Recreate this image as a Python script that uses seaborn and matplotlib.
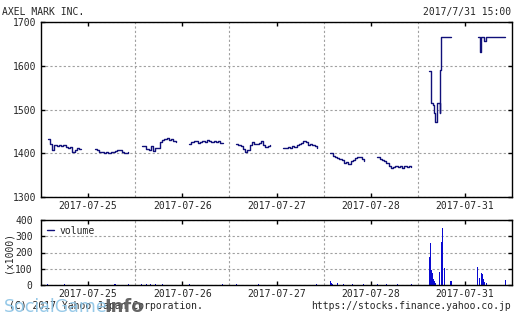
import numpy as np
import pandas as pd
import matplotlib
matplotlib.use("Agg")
import matplotlib.pyplot as plt
import seaborn as sns
from matplotlib.lines import Line2D
from matplotlib.ticker import FixedLocator

# ---------------- data ----------------
title = "AXEL MARK INC."
stamp = "2017/7/31 15:00"
day_labels = ["2017-07-25", "2017-07-26", "2017-07-27", "2017-07-28", "2017-07-31"]
price_ticks = [1300, 1400, 1500, 1600, 1700]
volume_ticks = [0, 100, 200, 300, 400]

# regular sessions (minutes after 9:00), 10-minute readings
am_minutes = list(range(0, 151, 10))
pm_minutes = list(range(210, 361, 10))

d1_am = [1432, 1422, 1408, 1420, 1416, 1418, 1416, 1418, 1415, 1412, 1414, 1404, 1408, 1412, 1410, 1410]
d1_pm = [1409, 1408, 1404, 1404, 1400, 1402, 1401, 1402, 1404, 1405, 1408, 1407, 1404, 1401, 1400, 1404]
d2_am = [1417, 1416, 1410, 1408, 1416, 1406, 1412, 1413, 1426, 1430, 1432, 1434, 1430, 1432, 1428, 1426]
d2_pm = [1422, 1426, 1428, 1427, 1424, 1426, 1428, 1426, 1430, 1428, 1426, 1428, 1425, 1429, 1424, 1424]
d3_am = [1422, 1418, 1416, 1410, 1404, 1408, 1418, 1426, 1422, 1421, 1424, 1428, 1420, 1414, 1416, 1420]
d3_pm = [1413, 1413, 1415, 1413, 1416, 1414, 1420, 1422, 1424, 1428, 1426, 1420, 1421, 1418, 1416, 1413]
d4_am = [1401, 1394, 1392, 1390, 1388, 1384, 1378, 1380, 1376, 1382, 1384, 1390, 1392, 1392, 1388, 1383]
d4_pm = [1391, 1388, 1385, 1382, 1378, 1372, 1366, 1368, 1370, 1368, 1370, 1367, 1370, 1368, 1370, 1369]

# 2017-07-31 (irregular trading)
d5_am_minutes = [22, 27, 30, 37, 40, 45, 48, 54, 57, 64, 67, 71, 74, 119]
d5_am = [1589, 1549, 1515, 1510, 1492, 1485, 1471, 1480, 1515, 1515, 1492, 1591, 1665, 1665]
d5_pm_minutes = [238, 246, 250, 265, 275, 360]
d5_pm = [1665, 1631, 1665, 1656, 1665, 1665]

# volume (x1000 shares): day index, minutes after 9:00, volume
vol_day = ([0] * 7 + [1] * 9 + [2] * 6 + [3] * 11 + [4] * 23)
vol_minute = ([0, 30, 75, 140, 215, 300, 360] +
              [0, 20, 40, 60, 90, 150, 210, 270, 360] +
              [0, 50, 100, 215, 300, 360] +
              [0, 5, 10, 30, 60, 100, 150, 210, 250, 300, 360] +
              [21, 27, 30, 34, 37, 41, 46, 50, 65, 76, 79, 88, 90, 118,
               237, 247, 252, 256, 260, 265, 269, 278, 360])
vol_value = ([6, 3, 4, 3, 3, 4, 6] +
             [8, 5, 9, 6, 4, 3, 4, 3, 5] +
             [5, 3, 4, 3, 3, 5] +
             [25, 12, 8, 15, 6, 5, 4, 6, 5, 4, 6] +
             [175, 256, 92, 74, 51, 35, 25, 15, 78, 267, 349, 107, 20, 25,
              109, 45, 62, 72, 66, 40, 20, 10, 31])

# ---------------- build frames ----------------
def xpos(day, minute):
    return day + (np.asarray(minute) + 30) / 420.0

sessions = [
    (0, am_minutes, d1_am), (0, pm_minutes, d1_pm),
    (1, am_minutes, d2_am), (1, pm_minutes, d2_pm),
    (2, am_minutes, d3_am), (2, pm_minutes, d3_pm),
    (3, am_minutes, d4_am), (3, pm_minutes, d4_pm),
    (4, d5_am_minutes, d5_am), (4, d5_pm_minutes, d5_pm),
]
rows = []
for seg, (d, mins, prices) in enumerate(sessions):
    for m, p in zip(mins, prices):
        rows.append({"x": float(xpos(d, m)), "price": p, "seg": seg})
price_df = pd.DataFrame(rows)

vol_df = pd.DataFrame({"x": xpos(np.array(vol_day), np.array(vol_minute)),
                       "volume": vol_value})

# ---------------- style ----------------
sns.set_style("white")
mono = ["DejaVu Sans Mono"]
plt.rcParams["font.family"] = mono
plt.rcParams["font.size"] = 7

navy = "#10107a"
barblue = "#0a0ad0"
gridc = "#a0a0a0"

fig = plt.figure(figsize=(5.19, 3.19), dpi=100)
W, H = 519.0, 319.0
ax1 = fig.add_axes([41 / W, 1 - 197 / H, 471 / W, 175 / H])
ax2 = fig.add_axes([41 / W, 1 - 285 / H, 471 / W, 65 / H])

sns.lineplot(data=price_df, x="x", y="price", units="seg", estimator=None,
             drawstyle="steps-post", color=navy, lw=1.0, ax=ax1, legend=False)

ax2.bar(vol_df["x"], vol_df["volume"], width=0.011, color=barblue, linewidth=0)

for ax, yt, ylim, ypad in [(ax1, price_ticks, (1300, 1700), 3), (ax2, volume_ticks, (0, 400), 6)]:
    ax.set_xlim(0, 5)
    ax.set_ylim(*ylim)
    ax.set_xlabel("")
    ax.set_ylabel("")
    ax.xaxis.set_major_locator(FixedLocator([0.5, 1.5, 2.5, 3.5, 4.5]))
    ax.set_xticklabels(day_labels)
    ax.xaxis.set_minor_locator(FixedLocator([1, 2, 3, 4]))
    ax.set_yticks(yt)
    ax.set_yticklabels([str(v) for v in yt])
    ax.tick_params(axis="x", which="major", direction="in", top=True, bottom=True,
                   length=3, width=1, pad=3, labelsize=7, color="black")
    ax.tick_params(axis="x", which="minor", length=0)
    ax.tick_params(axis="y", direction="in", left=True, right=True,
                   length=3, width=1, pad=ypad, labelsize=7, color="black")
    ax.grid(False)
    ax.grid(True, axis="x", which="minor", color=gridc, linestyle=(0, (2, 2)), lw=0.8)
    ax.grid(True, axis="y", which="major", color=gridc, linestyle=(0, (2, 2)), lw=0.8)
    for s in ax.spines.values():
        s.set_color("black")
        s.set_linewidth(1.0)
    ax.set_facecolor("white")

ax2.set_ylabel("(x1000)", fontsize=7, labelpad=1)
ax2.legend(handles=[Line2D([], [], color=navy, lw=1)], labels=["volume"],
           loc="upper left", frameon=False, handlelength=0.7, handletextpad=0.6,
           borderaxespad=0.2, fontsize=7)

fig.text(2 / W, 1 - 12 / H, title, ha="left", va="center", fontsize=7)
fig.text(511 / W, 1 - 12 / H, stamp, ha="right", va="center", fontsize=7)
fig.text(511 / W, 1 - 306 / H, "https://stocks.finance.yahoo.co.jp", ha="right",
         va="center", fontsize=7)
fig.text(203 / W, 1 - 306 / H, "(C) 2017 Yahoo Japan Corporation.", ha="right",
         va="center", fontsize=7)
# watermark
fig.text(4 / W, 1 - 307 / H, "SocialGame", ha="left", va="center", fontsize=12.5,
         family=["DejaVu Sans"], color="#8cc4e6", alpha=0.9, zorder=10)
fig.text(104 / W, 1 - 307 / H, "Info", ha="left", va="center", fontsize=13,
         family=["DejaVu Sans"], weight="bold", color="#555555", alpha=0.9, zorder=10)

fig.savefig("out.png", dpi=100)
